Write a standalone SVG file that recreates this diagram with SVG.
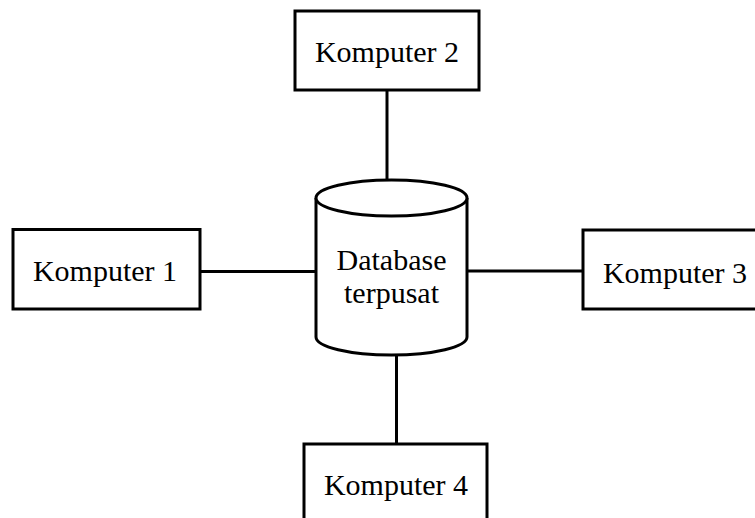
<svg xmlns="http://www.w3.org/2000/svg" width="755" height="518" viewBox="0 0 755 518">
<style>
.box{fill:#fff;stroke:#000;stroke-width:3}
.ln{stroke:#000;stroke-width:3;fill:none}
.t{font-family:"Liberation Serif","Times New Roman",serif;font-size:30px;fill:#000;text-anchor:middle}
</style>
<rect width="755" height="518" fill="#fff"/>
<g id="connectors">
<line class="ln" x1="387" y1="90" x2="387" y2="181"/>
<line class="ln" x1="200" y1="271.5" x2="316" y2="271.5"/>
<line class="ln" x1="467" y1="271" x2="583" y2="271"/>
<line class="ln" x1="396.5" y1="355" x2="396.5" y2="444"/>
</g>
<g id="komputer2">
<rect class="box" x="295" y="11" width="184" height="79"/>
<text class="t" x="387" y="62">Komputer 2</text>
</g>
<g id="komputer1">
<rect class="box" x="13" y="229.5" width="187" height="79.5"/>
<text class="t" x="105" y="281">Komputer 1</text>
</g>
<g id="komputer3">
<rect class="box" x="583" y="230" width="185" height="79"/>
<text class="t" x="675" y="283">Komputer 3</text>
</g>
<g id="komputer4">
<rect class="box" x="304" y="444" width="183" height="90"/>
<text class="t" x="396" y="495">Komputer 4</text>
</g>
<g id="database">
<path class="box" d="M316,198 L316,337 A75.5,18 0 0 0 467,337 L467,198"/>
<ellipse class="box" cx="391.5" cy="198" rx="75.5" ry="18"/>
<text class="t" x="391.5" y="270">Database</text>
<text class="t" x="391.5" y="303">terpusat</text>
</g>
</svg>
